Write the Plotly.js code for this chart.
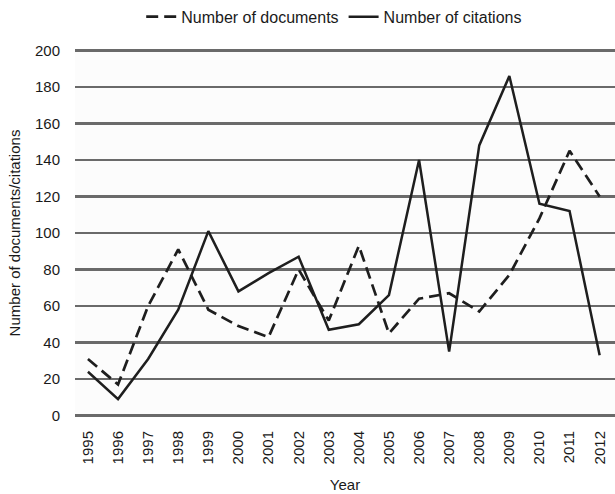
<!DOCTYPE html>
<html>
<head>
<meta charset="utf-8">
<script src="https://cdn.plot.ly/plotly-3.0.1.min.js"></script>
<style>html,body{margin:0;padding:0;background:#fff;}#chart{width:615px;height:494px;}</style>
</head>
<body>
<div id="chart"></div>
<script>
var years = ["1995","1996","1997","1998","1999","2000","2001","2002","2003","2004","2005","2006","2007","2008","2009","2010","2011","2012"];
var documents = [31, 17, 60, 91, 58, 49, 43, 80, 52, 93, 45, 64, 67, 57, 77, 108, 145, 120];
var citations = [24, 9, 31, 58, 101, 68, 78, 87, 47, 50, 66, 140, 35, 148, 186, 116, 112, 33];
var yTicks = [0, 20, 40, 60, 80, 100, 120, 140, 160, 180, 200];

var fam = "Liberation Sans, Arial, sans-serif";
var tickFont = {family: fam, size: 15, color: "#1a1a1a"};
var titleFont = {family: fam, size: 15, color: "#1a1a1a"};
var legendFont = {family: fam, size: 16, color: "#1a1a1a"};

var data = [
  {x: years, y: documents, type: "scatter", mode: "lines", name: "Number of documents",
   line: {color: "#1e1e1e", width: 2.7, dash: "12px,6px"}},
  {x: years, y: citations, type: "scatter", mode: "lines", name: "Number of citations",
   line: {color: "#1e1e1e", width: 2.5}}
];

var layout = {
  width: 615, height: 494,
  margin: {l: 75, r: 0, t: 48.5, b: 76.5},
  paper_bgcolor: "#ffffff",
  plot_bgcolor: "#fcfcfc",
  font: tickFont,
  showlegend: true,
  legend: {orientation: "h", x: 0.48, xanchor: "center", yref: "container", y: 0.966, yanchor: "middle",
           font: legendFont, bgcolor: "rgba(0,0,0,0)", itemwidth: 30, tracegroupgap: 0},
  xaxis: {type: "category", range: [-0.43, 17.51], tickangle: -90, showgrid: false, zeroline: false,
          showline: false, ticks: "", ticklabelstandoff: 10, tickfont: tickFont,
          title: {text: "Year", font: titleFont, standoff: 16}},
  yaxis: {range: [-0.8, 200.8], tickvals: yTicks, showgrid: true, gridcolor: "#6a6a6a", gridwidth: 2.4,
          zeroline: false, showline: false, ticks: "", ticklabelstandoff: 14, tickfont: tickFont,
          title: {text: "Number of documents/citations", font: titleFont, standoff: 10}}
};

Plotly.newPlot("chart", data, layout, {displayModeBar: false, staticPlot: true});
</script>
</body>
</html>
